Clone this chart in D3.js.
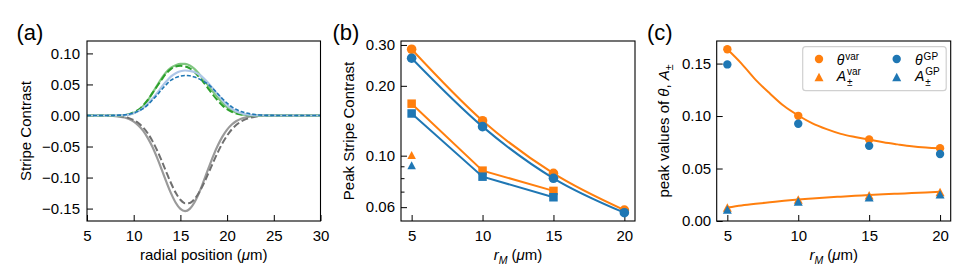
<!DOCTYPE html>
<html><head><meta charset="utf-8">
<script src="https://cdn.jsdelivr.net/npm/d3@7"></script>
<style>
body{margin:0;background:#fff;}
svg{display:block;font-family:"Liberation Sans",Arial,Helvetica,sans-serif;}
</style></head><body>
<svg id="chart" width="969" height="277"></svg>
<script>
// ---------- Panel (a) data ----------
const radialPos = [5,6,7,7.5,8,8.5,9,9.5,10,10.5,11,11.5,12,12.5,13,13.5,14,14.5,15,15.5,16,16.5,17,17.5,18,18.5,19,19.5,20,20.5,21,21.5,22,22.5,23,23.5,24,24.5,25,26,27,28,30];
const greenSolid = [0,0,0,0,0,0.0002,0.0005,0.0015,0.004,0.008,0.015,0.024,0.036,0.048,0.060,0.070,0.077,0.081,0.083,0.083,0.0805,0.075,0.067,0.058,0.048,0.038,0.029,0.020,0.013,0.008,0.0045,0.0023,0.0011,0.0005,0.0002,0,0,0,0,0,0,0,0];
const greenDashed = [0,0,0,0,0,0.0003,0.0008,0.002,0.005,0.009,0.016,0.025,0.036,0.047,0.058,0.068,0.075,0.079,0.080,0.079,0.076,0.070,0.062,0.053,0.043,0.033,0.024,0.016,0.010,0.006,0.003,0.0015,0.0006,0.0002,0,0,0,0,0,0,0,0,0];
const lightBlueSolid = [0,0,0,0,0,0.0002,0.0005,0.0015,0.0035,0.007,0.012,0.019,0.027,0.036,0.046,0.055,0.063,0.068,0.0712,0.0725,0.072,0.070,0.066,0.060,0.052,0.043,0.034,0.025,0.017,0.011,0.0065,0.0035,0.0018,0.0008,0.0003,0.0001,0,0,0,0,0,0,0];
const blueDashed = [0,0,0,0,0.0002,0.0005,0.001,0.002,0.004,0.007,0.011,0.017,0.025,0.033,0.042,0.050,0.057,0.061,0.0635,0.0645,0.064,0.062,0.059,0.055,0.050,0.043,0.035,0.027,0.020,0.014,0.0095,0.0063,0.0041,0.0026,0.0015,0.0008,0.0004,0.0002,0.0001,0,0,0,0];
const graySolid = [0,0,-0.0001,-0.0004,-0.0009,-0.0018,-0.0033,-0.0058,-0.0098,-0.0159,-0.0244,-0.0360,-0.0505,-0.0680,-0.0873,-0.1071,-0.1255,-0.1406,-0.1505,-0.154,-0.1504,-0.1401,-0.1245,-0.1055,-0.0853,-0.0658,-0.0484,-0.0340,-0.0227,-0.0145,-0.0088,-0.0051,-0.0028,-0.0015,-0.0008,-0.0004,-0.0002,-0.0001,0,0,0,0,0];
const grayDashed = [0,0,-0.0001,-0.0003,-0.0007,-0.0013,-0.0024,-0.0043,-0.0074,-0.0122,-0.0191,-0.0286,-0.0409,-0.0560,-0.0732,-0.0915,-0.1092,-0.1246,-0.1358,-0.1414,-0.1410,-0.1349,-0.1240,-0.1096,-0.0930,-0.0758,-0.0594,-0.0447,-0.0324,-0.0225,-0.0150,-0.0096,-0.0059,-0.0035,-0.0020,-0.0011,-0.0006,-0.0003,-0.0001,0,0,0,0];
const aTicksX = [5,10,15,20,25,30];
const aTicksY = [-0.15,-0.10,-0.05,0.00,0.05,0.10];

// ---------- Panel (b) data ----------
const rM = [5,10,15,20];
const bCircleOrange = [0.2875,0.1415,0.0839,0.0583];
const bCircleBlue = [0.263,0.1334,0.0799,0.0568];
const rMsq = [5,10,15];
const bSquareOrange = [0.1675,0.0862,0.0705];
const bSquareBlue = [0.152,0.0812,0.0662];
const rMtri = [5];
const bTriOrange = [0.1007];
const bTriBlue = [0.0909];
const bTicksY = [0.06,0.10,0.20,0.30];
const bMinorY = [0.07,0.08,0.09];

// ---------- Panel (c) data ----------
const thetaVar = [0.1636,0.1002,0.0777,0.0694];
const thetaGP = [0.1492,0.0926,0.0716,0.0639];
const aVar = [0.0128,0.0204,0.0245,0.0277];
const aGP = [0.0109,0.0185,0.0226,0.0255];
const fitX = [5,6,7,8,9,10,11,12,13,14,15,16,17,18,19,20];
const thetaFit = [0.1636,0.150,0.1345,0.1215,0.1095,0.1005,0.0930,0.0875,0.0830,0.0800,0.0775,0.0750,0.0730,0.0712,0.0700,0.0692];
const aFit = [0.0128,0.0148,0.0164,0.0178,0.0192,0.0204,0.0214,0.0224,0.0232,0.0240,0.0247,0.0254,0.0260,0.0266,0.0272,0.0278];
const cTicksY = [0.00,0.05,0.10,0.15];
const rTicks = [5,10,15,20];
const legendBase = ["θ","θ","A","A"];
const legendSup = ["var","GP","var","GP"];
const legendSub = ["","","±","±"];

const ORANGE = "#ff7f0e", BLUE = "#1f77b4";
const FONT = '"Liberation Sans",Arial,Helvetica,sans-serif';
const FS = 15;

const svg = d3.select("#chart");
svg.append("rect").attr("width",969).attr("height",277).attr("fill","#fff");

const PA = {x0:87, x1:320.5, y0:41, y1:221};
const PB = {x0:401, x1:635, y0:41, y1:221};
const PC = {x0:716.7, x1:950.7, y0:41, y1:221};

const xa = d3.scaleLinear().domain([5,30]).range([PA.x0,PA.x1]);
const ya = d3.scaleLinear().domain([-0.17,0.12]).range([PA.y1,PA.y0]);
const xb = d3.scaleLinear().domain([4.25,20.75]).range([PB.x0,PB.x1]);
const yb = d3.scaleLog().domain([0.0523,0.312]).range([PB.y1,PB.y0]);
const xc = d3.scaleLinear().domain([4.25,20.75]).range([PC.x0,PC.x1]);
const yc = d3.scaleLinear().domain([0,0.1715]).range([PC.y1,PC.y0]);

function styleAxis(g){
  g.attr("font-size",FS).attr("font-family",FONT);
  g.select(".domain").remove();
  g.selectAll("line").attr("stroke","#000").attr("stroke-width",1);
  g.selectAll("text").attr("fill","#000");
}
function frame(p){
  svg.append("rect").attr("x",p.x0).attr("y",p.y0).attr("width",p.x1-p.x0).attr("height",p.y1-p.y0)
    .attr("fill","none").attr("stroke","#000").attr("stroke-width",1.1);
}
function clip(id,p){
  svg.append("clipPath").attr("id",id).append("rect").attr("x",p.x0).attr("y",p.y0).attr("width",p.x1-p.x0).attr("height",p.y1-p.y0);
}
const fmt2 = d3.format(".2f");

// ---------- axes ----------
svg.append("g").attr("transform",`translate(0,${PA.y1})`).call(d3.axisBottom(xa).tickValues(aTicksX).tickSize(-6).tickPadding(9).tickFormat(d3.format("d"))).call(styleAxis);
svg.append("g").attr("transform",`translate(${PA.x0},0)`).call(d3.axisLeft(ya).tickValues(aTicksY).tickSize(-6).tickPadding(7).tickFormat(fmt2)).call(styleAxis);

svg.append("g").attr("transform",`translate(0,${PB.y1})`).call(d3.axisBottom(xb).tickValues(rTicks).tickSize(-6).tickPadding(9).tickFormat(d3.format("d"))).call(styleAxis);
svg.append("g").attr("transform",`translate(${PB.x0},0)`).call(d3.axisLeft(yb).tickValues(bTicksY).tickSize(-6).tickPadding(6).tickFormat(fmt2)).call(styleAxis);
svg.append("g").attr("transform",`translate(${PB.x0},0)`).call(d3.axisLeft(yb).tickValues(bMinorY).tickSize(-3.5).tickFormat("")).call(styleAxis);

svg.append("g").attr("transform",`translate(0,${PC.y1})`).call(d3.axisBottom(xc).tickValues(rTicks).tickSize(-6).tickPadding(9).tickFormat(d3.format("d"))).call(styleAxis);
svg.append("g").attr("transform",`translate(${PC.x0},0)`).call(d3.axisLeft(yc).tickValues(cTicksY).tickSize(-6).tickPadding(5.5).tickFormat(fmt2)).call(styleAxis);

// ---------- panel (a) curves ----------
clip("clipA",PA);
const gA = svg.append("g").attr("clip-path","url(#clipA)");
const lineA = d3.line().x(d=>xa(d[0])).y(d=>ya(d[1])).curve(d3.curveMonotoneX);
const seriesA = [
  {v:graySolid, c:"#9a9a9a", w:2.2, dash:null},
  {v:grayDashed, c:"#707070", w:2, dash:"7,3"},
  {v:greenSolid, c:"#80c680", w:2.2, dash:null},
  {v:greenDashed, c:"#2ca02c", w:2, dash:"7,3"},
  {v:lightBlueSolid, c:"#aec7e8", w:2.2, dash:null},
  {v:blueDashed, c:BLUE, w:1.6, dash:"4,2"}
];
seriesA.forEach(s=>{
  gA.append("path").datum(d3.zip(radialPos,s.v)).attr("d",lineA).attr("fill","none")
    .attr("stroke",s.c).attr("stroke-width",s.w).attr("stroke-dasharray",s.dash);
});

// ---------- markers ----------
function circles(g,xs,ys,sx,sy,c,r){
  g.selectAll(null).data(d3.zip(xs,ys)).enter().append("circle")
   .attr("cx",d=>sx(d[0])).attr("cy",d=>sy(d[1])).attr("r",r).attr("fill",c);
}
function squares(g,xs,ys,sx,sy,c,s){
  g.selectAll(null).data(d3.zip(xs,ys)).enter().append("rect")
   .attr("x",d=>sx(d[0])-s/2).attr("y",d=>sy(d[1])-s/2).attr("width",s).attr("height",s).attr("fill",c);
}
function triPath(x,y,w,h){ return `M${x},${y-h/2}L${x+w/2},${y+h/2}L${x-w/2},${y+h/2}Z`; }
function triangles(g,xs,ys,sx,sy,c,w,h){
  g.selectAll(null).data(d3.zip(xs,ys)).enter().append("path")
   .attr("d",d=>triPath(sx(d[0]),sy(d[1]),w,h)).attr("fill",c);
}

// ---------- panel (b) ----------
const gB = svg.append("g");
const lineB = d3.line().x(d=>xb(d[0])).y(d=>yb(d[1])).curve(d3.curveMonotoneX);
const lineBLin = d3.line().x(d=>xb(d[0])).y(d=>yb(d[1]));
[[bCircleOrange,ORANGE],[bCircleBlue,BLUE]].forEach(([v,c])=>{
  gB.append("path").datum(d3.zip(rM,v)).attr("d",lineB).attr("fill","none").attr("stroke",c).attr("stroke-width",2);
  circles(gB,rM,v,xb,yb,c,4.8);
});
[[bSquareOrange,ORANGE],[bSquareBlue,BLUE]].forEach(([v,c])=>{
  gB.append("path").datum(d3.zip(rMsq,v)).attr("d",lineBLin).attr("fill","none").attr("stroke",c).attr("stroke-width",2);
  squares(gB,rMsq,v,xb,yb,c,8.5);
});
triangles(gB,rMtri,bTriOrange,xb,yb,ORANGE,8.5,8);
triangles(gB,rMtri,bTriBlue,xb,yb,BLUE,8.5,8);

// ---------- panel (c) ----------
const gC = svg.append("g");
const lineC = d3.line().x(d=>xc(d[0])).y(d=>yc(d[1])).curve(d3.curveMonotoneX);
gC.append("path").datum(d3.zip(fitX,thetaFit)).attr("d",lineC).attr("fill","none").attr("stroke",ORANGE).attr("stroke-width",2);
gC.append("path").datum(d3.zip(fitX,aFit)).attr("d",lineC).attr("fill","none").attr("stroke",ORANGE).attr("stroke-width",2);
circles(gC,rM,thetaVar,xc,yc,ORANGE,4.2);
circles(gC,rM,thetaGP,xc,yc,BLUE,4.2);
triangles(gC,rM,aVar,xc,yc,ORANGE,9,8.5);
triangles(gC,rM,aGP,xc,yc,BLUE,9,8.5);

// legend
const lg = svg.append("g");
lg.append("rect").attr("x",802.7).attr("y",46.7).attr("width",143.5).attr("height",44).attr("rx",3)
  .attr("fill","#fff").attr("fill-opacity",0.8).attr("stroke","#d0d0d0").attr("stroke-width",1.2);
const legMarkX = [819,896.7,819,896.7], legMarkY = [59,59,77,77];
const legTextX = [836.7,915,836.7,915], legTextY = [64.5,64.5,81,81];
const legColor = [ORANGE,BLUE,ORANGE,BLUE];
legendBase.forEach((b,i)=>{
  if(i<2) lg.append("circle").attr("cx",legMarkX[i]).attr("cy",legMarkY[i]).attr("r",4.2).attr("fill",legColor[i]);
  else lg.append("path").attr("d",triPath(legMarkX[i],legMarkY[i],9,8.5)).attr("fill",legColor[i]);
  const t = lg.append("text").attr("x",legTextX[i]).attr("y",legTextY[i]).attr("font-size",14).attr("font-style","italic").attr("font-family",FONT).text(b);
  const w = t.node().getComputedTextLength();
  lg.append("text").attr("x",legTextX[i]+w+1).attr("y",legTextY[i]-(i<2?5:6)).attr("font-size",10).attr("font-family",FONT).text(legendSup[i]);
  if(legendSub[i]) lg.append("text").attr("x",legTextX[i]+w+1).attr("y",legTextY[i]+4.5).attr("font-size",10).attr("font-family",FONT).text(legendSub[i]);
});

// frames
frame(PA); frame(PB); frame(PC);

// ---------- labels ----------
function label(x,y,rot){
  const t = svg.append("text").attr("font-size",FS).attr("font-family",FONT).attr("text-anchor","middle").attr("fill","#000");
  if(rot) t.attr("transform",`translate(${x},${y}) rotate(-90)`); else t.attr("x",x).attr("y",y);
  return t;
}
// panel letters
[["(a)",16.5],["(b)",332.5],["(c)",647]].forEach(([s,x])=>{
  svg.append("text").attr("x",x).attr("y",40).attr("font-size",22).attr("font-family",FONT).text(s);
});
// x labels
let t = label((PA.x0+PA.x1)/2,260,false);
t.append("tspan").text("radial position (");
t.append("tspan").attr("font-style","italic").text("μ");
t.append("tspan").text("m)");
[PB,PC].forEach(p=>{
  const l = label((p.x0+p.x1)/2,260,false);
  l.append("tspan").attr("font-style","italic").text("r");
  l.append("tspan").attr("font-style","italic").attr("font-size",10.5).attr("dy",3.5).text("M");
  l.append("tspan").attr("dy",-3.5).text(" (");
  l.append("tspan").attr("font-style","italic").text("μ");
  l.append("tspan").text("m)");
});
// y labels
label(30.5,(PA.y0+PA.y1)/2,true).text("Stripe Contrast");
label(353.5,(PB.y0+PB.y1)/2,true).text("Peak Stripe Contrast");
t = label(669,(PC.y0+PC.y1)/2,true);
t.append("tspan").text("peak values of ");
t.append("tspan").attr("font-style","italic").text("θ");
t.append("tspan").text(", ");
t.append("tspan").attr("font-style","italic").text("A");
t.append("tspan").attr("font-size",10.5).attr("dy",3.5).text("±");
</script>
</body></html>
